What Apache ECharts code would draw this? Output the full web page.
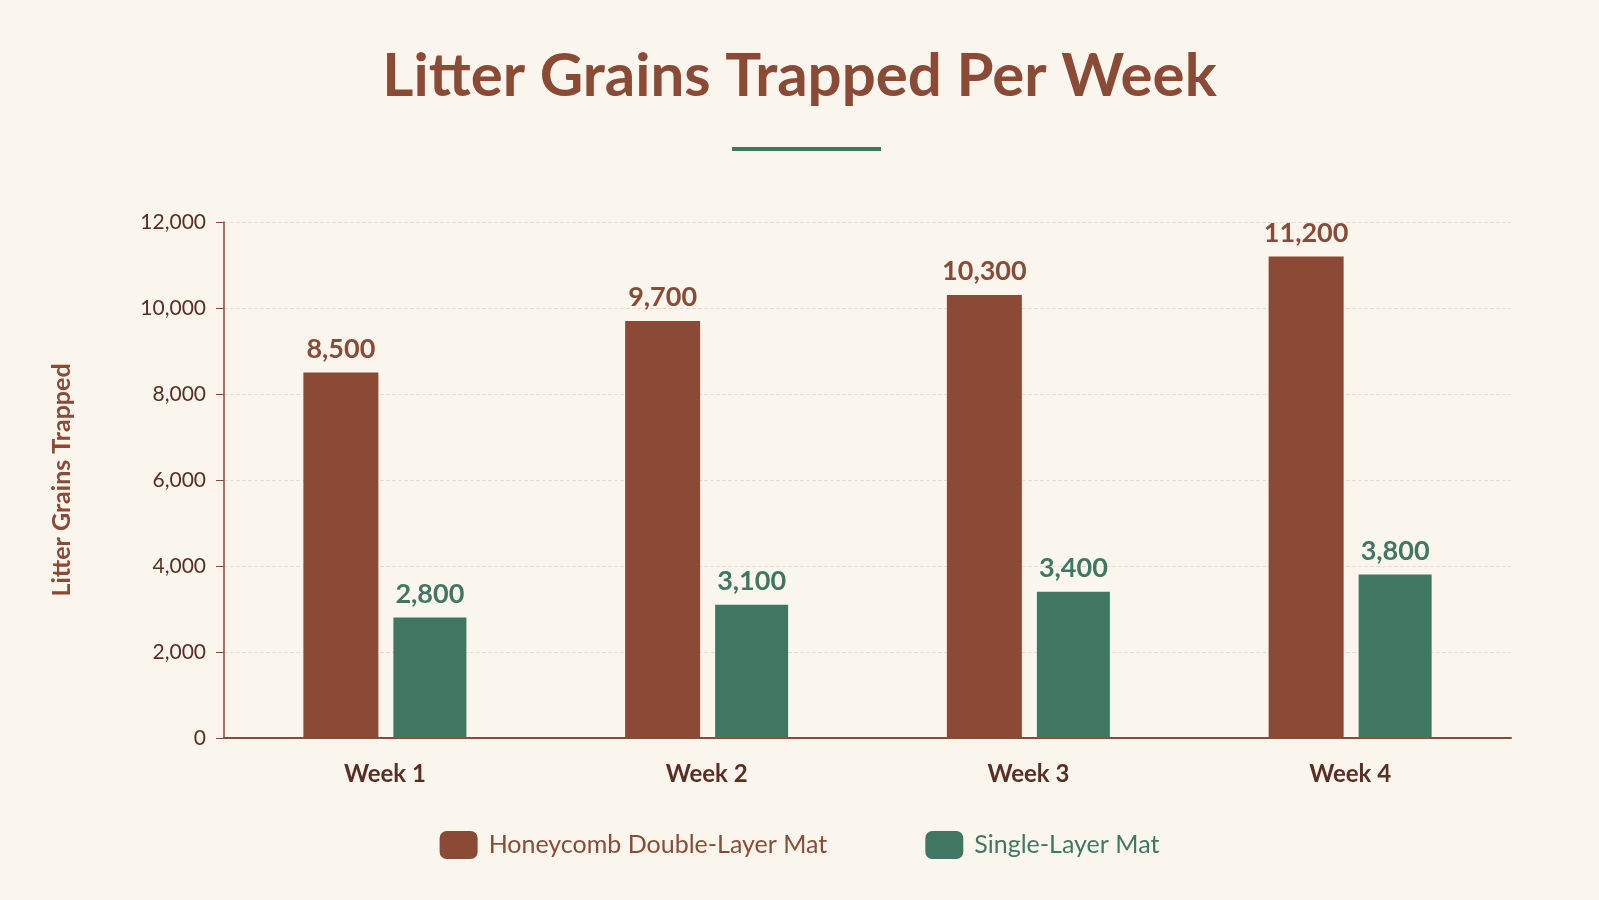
<!DOCTYPE html>
<html>
<head>
<meta charset="utf-8">
<script src="https://cdn.jsdelivr.net/npm/echarts@6/dist/echarts.min.js"></script>
<style>
  html, body { margin: 0; padding: 0; background: #faf6ee; }
  #main { width: 1599px; height: 900px; }
</style>
</head>
<body>
<div id="main"></div>
<script>
var weeks = ['Week 1', 'Week 2', 'Week 3', 'Week 4'];
var honeycomb = [8500, 9700, 10300, 11200];
var singleLayer = [2800, 3100, 3400, 3800];

var brown = '#8b4a35';
var green = '#3f7763';

var chart = echarts.init(document.getElementById('main'));
chart.setOption({
  backgroundColor: '#faf6ee',
  textStyle: { fontFamily: 'Lato' },
  title: {
    text: 'Litter Grains Trapped Per Week',
    left: 'center',
    top: 42,
    textStyle: { fontSize: 60, fontWeight: 'bold', color: brown, fontFamily: 'Lato' }
  },
  graphic: [{
    type: 'rect',
    shape: { x: 732, y: 147, width: 149, height: 4 },
    style: { fill: green }
  }],
  legend: {
    bottom: 36,
    left: 'center',
    itemWidth: 38,
    itemHeight: 28,
    itemGap: 98,
    data: [
      { name: 'Honeycomb Double-Layer Mat', textStyle: { color: brown } },
      { name: 'Single-Layer Mat', textStyle: { color: green } }
    ],
    textStyle: { fontSize: 25, fontFamily: 'Lato', padding: [0, 0, 0, 6] }
  },
  grid: { left: 224, right: 88, top: 222, bottom: 162 },
  xAxis: {
    type: 'category',
    data: weeks,
    axisTick: { show: false },
    axisLine: { lineStyle: { color: brown, width: 2 } },
    axisLabel: { color: '#5a2e22', fontSize: 24, fontWeight: 'bold', margin: 24 }
  },
  yAxis: {
    type: 'value',
    min: 0, max: 12000, interval: 2000,
    name: 'Litter Grains Trapped',
    nameLocation: 'middle',
    nameGap: 150,
    nameTextStyle: { color: brown, fontSize: 25, fontWeight: 'bold' },
    axisLine: { show: true, lineStyle: { color: brown, width: 1.5 } },
    axisTick: { show: true, length: 8, lineStyle: { color: brown } },
    axisLabel: {
      color: '#5a2e22', fontSize: 21, margin: 18,
      formatter: function (v) { return v.toLocaleString('en-US'); }
    },
    splitLine: { lineStyle: { color: '#e6ddd0', type: 'dashed' } }
  },
  series: [{
    name: 'Honeycomb Double-Layer Mat',
    type: 'bar',
    data: honeycomb,
    barWidth: 75,
    barGap: '20%',
    itemStyle: { color: brown },
    label: {
      show: true, position: 'top', distance: 10,
      color: brown, fontSize: 27, fontWeight: 'bold',
      formatter: function (p) { return p.value.toLocaleString('en-US'); }
    }
  }, {
    name: 'Single-Layer Mat',
    type: 'bar',
    data: singleLayer,
    barWidth: 73,
    itemStyle: { color: green },
    label: {
      show: true, position: 'top', distance: 10,
      color: green, fontSize: 27, fontWeight: 'bold',
      formatter: function (p) { return p.value.toLocaleString('en-US'); }
    }
  }]
});
</script>
</body>
</html>
